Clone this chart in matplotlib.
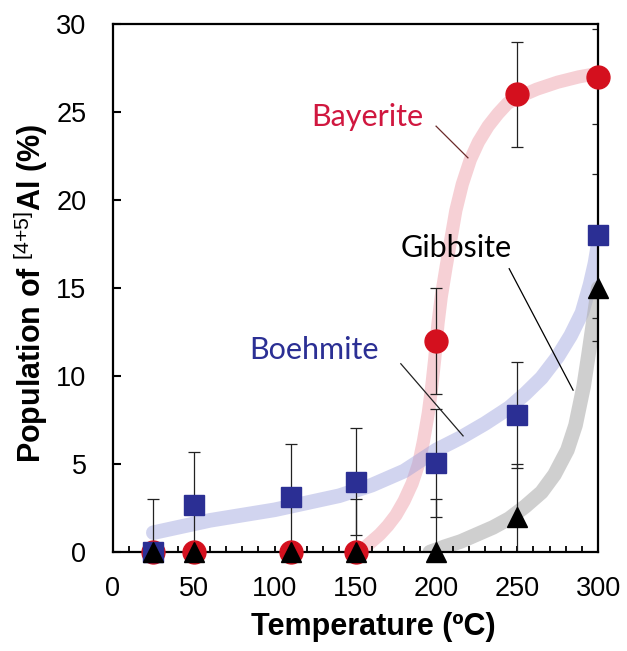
import matplotlib
matplotlib.use("Agg")
import matplotlib.pyplot as plt
import numpy as np

plt.rcParams['font.family'] = ['Liberation Sans', 'DejaVu Sans']
plt.rcParams['mathtext.fontset'] = 'custom'
plt.rcParams['mathtext.rm'] = 'Liberation Sans'
plt.rcParams['mathtext.bf'] = 'Liberation Sans:bold'

# ---- data ----
temps = [25, 50, 110, 150, 200, 250, 300]

bayerite = [0, 0, 0, 0, 12, 26, 27]
bayerite_err_lo = [0, 0, 0, 3, 3, 3, 2.7]
bayerite_err_hi = [0, 0, 0, 3, 3, 3, 2.7]

boehmite = [0, 2.7, 3.15, 4.0, 5.05, 7.8, 18]
boehmite_err_lo = [3, 3, 3, 3.05, 3.05, 3, 4.7]
boehmite_err_hi = [3, 3, 3, 3.05, 3.05, 3, 3.5]

gibbsite = [0, 0, 0, 0, 0, 2, 15]
gibbsite_err_lo = [0, 0, 0, 0, 3, 3, 3]
gibbsite_err_hi = [0, 0, 0, 0, 3, 3, 3]

# guide-to-the-eye curves
bay_curve_x = [150, 155, 160, 165, 170, 175, 180, 185, 189, 192, 195, 197, 199, 201, 203,
               206, 209, 212, 216, 221, 226, 232, 238, 244, 252, 262, 275, 288, 300]
bay_curve_y = [0, 0.2, 0.6, 1.0, 1.5, 2.1, 2.9, 3.9, 5.0, 6.3, 7.9, 9.3, 11.0, 13.0, 14.5,
               16.2, 17.8, 19.4, 20.9, 22.3, 23.3, 24.2, 24.9, 25.5, 25.9, 26.3, 26.7, 27.0, 27.2]

boe_curve_x = [25, 40, 60, 80, 100, 120, 140, 160, 180, 200, 215, 230, 245, 255, 265,
               275, 283, 290, 295, 298, 300]
boe_curve_y = [1.1, 1.4, 1.8, 2.1, 2.4, 2.8, 3.2, 3.8, 4.6, 5.8, 6.5, 7.3, 8.2, 9.0, 9.9,
               11.1, 12.3, 13.6, 15.2, 16.4, 17.5]

gib_curve_x = [196, 205, 215, 225, 235, 245, 255, 265, 273, 281, 286, 291, 294, 297.5, 300]
gib_curve_y = [0.0, 0.3, 0.6, 1.0, 1.4, 1.9, 2.6, 3.4, 4.4, 5.8, 7.2, 9.4, 11.2, 13.4, 15.0]

x_ticks = [0, 50, 100, 150, 200, 250, 300]
y_ticks = [0, 5, 10, 15, 20, 25, 30]

# ---- figure ----
fig = plt.figure(figsize=(6.27, 6.51), dpi=100)
ax = fig.add_axes([0.180, 0.152, 0.774, 0.811])

ckw = dict(solid_capstyle='round', solid_joinstyle='round', zorder=1)
ax.plot(bay_curve_x, bay_curve_y, color='#ec97a3', alpha=0.45, lw=9.5, **ckw)
ax.plot(boe_curve_x, boe_curve_y, color='#9ba0dc', alpha=0.45, lw=10.5, **ckw)
ax.plot(gib_curve_x, gib_curve_y, color='#b0b0b0', alpha=0.6, lw=10.5, **ckw)

ekw = dict(fmt='none', ecolor='#222222', elinewidth=0.9, capsize=4, capthick=0.9, zorder=2)
ax.errorbar(temps, bayerite, yerr=[bayerite_err_lo, bayerite_err_hi], **ekw)
ax.errorbar(temps, boehmite, yerr=[boehmite_err_lo, boehmite_err_hi], **ekw)
ax.errorbar(temps, gibbsite, yerr=[gibbsite_err_lo, gibbsite_err_hi], **ekw)

ax.plot(temps, bayerite, 'o', color='#d4101e', ms=16.5, mec='#d4101e', clip_on=False, zorder=3)
ax.plot(temps, boehmite, 's', color='#2b2f94', ms=14, mec='#2b2f94', clip_on=False, zorder=4)
ax.plot(temps, gibbsite, '^', color='black', ms=15, mec='black', clip_on=False, zorder=5)

# annotations
afont = ['Lato', 'DejaVu Sans']
ax.text(157, 24.7, 'Bayerite', color='#d0173f', fontsize=22, family=afont, ha='center', va='center')
ax.plot([199.8, 219.5], [24.2, 22.4], color='#6b2a2a', lw=0.9, zorder=2)
ax.text(212, 17.3, 'Gibbsite', color='black', fontsize=22, family=afont, ha='center', va='center')
ax.plot([245, 284.5], [16.1, 9.2], color='black', lw=0.9, zorder=2)
ax.text(124.3, 11.5, 'Boehmite', color='#2b2f94', fontsize=22, family=afont, ha='center', va='center')
ax.plot([178, 216.5], [10.7, 6.6], color='#222222', lw=0.9, zorder=2)

ax.set_xlim(0, 300)
ax.set_ylim(0, 30)
ax.set_xticks(x_ticks)
ax.set_xticks(np.arange(0, 301, 10), minor=True)
ax.set_yticks(y_ticks)
ax.tick_params(axis='x', which='both', direction='in', length=4, width=1.3, labelsize=19.5, pad=17)
ax.tick_params(axis='y', which='major', direction='in', length=6, width=1.5, labelsize=19.5, pad=19)
for s in ax.spines.values():
    s.set_linewidth(1.6)

ax.set_xlabel('Temperature (ºC)', fontsize=22, fontweight='bold')
ax.xaxis.set_label_coords(0.536, -0.113)
ax.set_ylabel(r'Population of $^{\mathrm{[4{+}5]}}$Al (%)', fontsize=22, fontweight='bold')
ax.yaxis.set_label_coords(-0.13, 0.49)

fig.savefig('out.png', dpi=100)
